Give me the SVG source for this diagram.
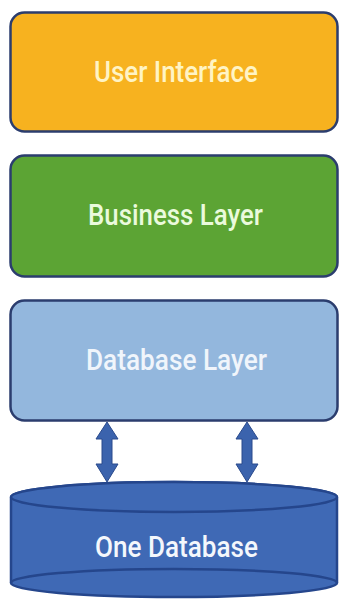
<svg xmlns="http://www.w3.org/2000/svg" width="340" height="599" viewBox="0 0 340 599">
<style>
.box{stroke:#2b3d6e;stroke-width:2.5}
.lbl{font-family:Roboto,"Liberation Sans",Arial,sans-serif;font-size:30px;font-weight:500;text-anchor:middle}
.arr{fill:#3b63ad;stroke:#2a4a8c;stroke-width:1}
.cyl{fill:#3f69b5;stroke:#25468c;stroke-width:2.5}
</style>
<rect width="340" height="599" fill="#ffffff"/>
<g id="ui">
<rect class="box" x="10.5" y="12.5" width="327" height="119" rx="14" fill="#f7b21f"/>
<text class="lbl" x="176" y="82" fill="#fff4c4" textLength="164" lengthAdjust="spacingAndGlyphs">User Interface</text>
</g>
<g id="business">
<rect class="box" x="10.5" y="155.5" width="327" height="121" rx="14" fill="#5ca434"/>
<text class="lbl" x="175.5" y="225" fill="#eafadc" textLength="175" lengthAdjust="spacingAndGlyphs">Business Layer</text>
</g>
<g id="dblayer">
<rect class="box" x="10.5" y="300.5" width="327" height="120" rx="14" fill="#93b7dd"/>
<text class="lbl" x="176.5" y="370" fill="#f0f5fb" textLength="181" lengthAdjust="spacingAndGlyphs">Database Layer</text>
</g>
<g id="connectors">
<polygon class="arr" points="107,422 118,439 112,439 112,464 118,464 107,482 96,464 102,464 102,439 96,439"/>
<polygon class="arr" points="247,422 258,439 252,439 252,464 258,464 247,482 236,464 242,464 242,439 236,439"/>
</g>
<g id="database">
<path class="cyl" d="M11,497 L11,583 A163,14 0 0 0 337,583 L337,497 A163,15 0 0 0 11,497 Z"/>
<ellipse class="cyl" cx="174" cy="497" rx="163" ry="15"/>
<path d="M11,583 A163,14 0 0 1 337,583" fill="none" stroke="#25468c" stroke-width="2.5"/>
<text class="lbl" x="176.5" y="557" fill="#f4f7fc" textLength="163" lengthAdjust="spacingAndGlyphs">One Database</text>
</g>
</svg>
